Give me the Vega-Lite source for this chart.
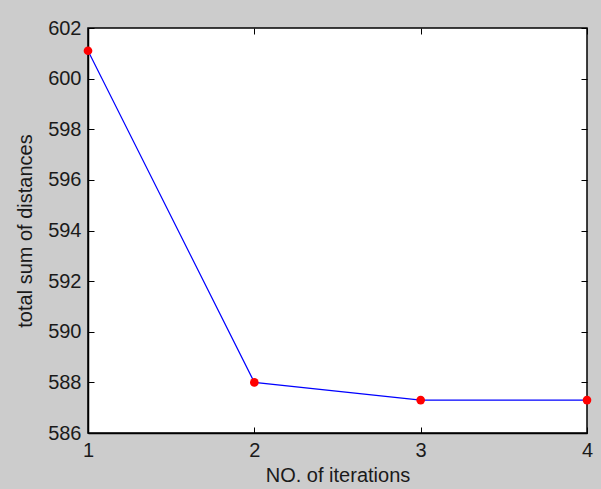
{
  "$schema": "https://vega.github.io/schema/vega-lite/v6.json",
  "autosize": "none",
  "padding": {"left": 88, "top": 28, "right": 14, "bottom": 56},
  "width": 499,
  "height": 405,
  "background": "#cccccc",
  "config": {
    "view": {"fill": "white", "stroke": "black", "strokeWidth": 1.5},
    "font": "Liberation Sans",
    "axis": {
      "labelFont": "Liberation Sans",
      "titleFont": "Liberation Sans",
      "labelFontSize": 20,
      "titleFontSize": 20,
      "titleFontWeight": "normal",
      "labelColor": "#1a1a1a",
      "titleColor": "#1a1a1a",
      "domainColor": "black",
      "domainWidth": 1.5,
      "tickColor": "black",
      "tickWidth": 1,
      "tickSize": -6,
      "labelFlush": false,
      "grid": false
    }
  },
  "data": {
    "values": [
      {"iter": 1, "dist": 601.1},
      {"iter": 2, "dist": 588.0},
      {"iter": 3, "dist": 587.3},
      {"iter": 4, "dist": 587.3}
    ]
  },
  "layer": [
    {
      "mark": {"type": "line", "color": "#0000ff", "strokeWidth": 1.2, "point": {"shape": "circle", "filled": true, "color": "#ff0000", "size": 75, "opacity": 1}},
      "encoding": {
        "x": {
          "field": "iter",
          "type": "quantitative",
          "scale": {"domain": [1, 4], "nice": false},
          "axis": {"values": [1, 2, 3, 4], "format": "d", "title": "NO. of iterations", "labelPadding": 13, "titlePadding": 5}
        },
        "y": {
          "field": "dist",
          "type": "quantitative",
          "scale": {"domain": [586, 602], "nice": false, "zero": false},
          "axis": {"values": [586, 588, 590, 592, 594, 596, 598, 600, 602], "title": "total sum of distances", "labelPadding": 13, "titlePadding": 12}
        }
      }
    },
    {
      "mark": {"type": "rule", "opacity": 0},
      "encoding": {
        "x": {"field": "iter", "type": "quantitative", "scale": {"domain": [1, 4], "nice": false}, "axis": {"orient": "top", "values": [1, 2, 3, 4], "labels": false, "labelOpacity": 0, "title": null, "domain": false, "tickSize": -6}},
        "y": {"field": "dist", "type": "quantitative", "scale": {"domain": [586, 602], "nice": false, "zero": false}, "axis": {"orient": "right", "values": [586, 588, 590, 592, 594, 596, 598, 600, 602], "labels": false, "labelOpacity": 0, "title": null, "domain": false, "tickSize": -6}}
      }
    }
  ],
  "resolve": {"scale": {"x": "shared", "y": "shared"}, "axis": {"x": "independent", "y": "independent"}}
}
